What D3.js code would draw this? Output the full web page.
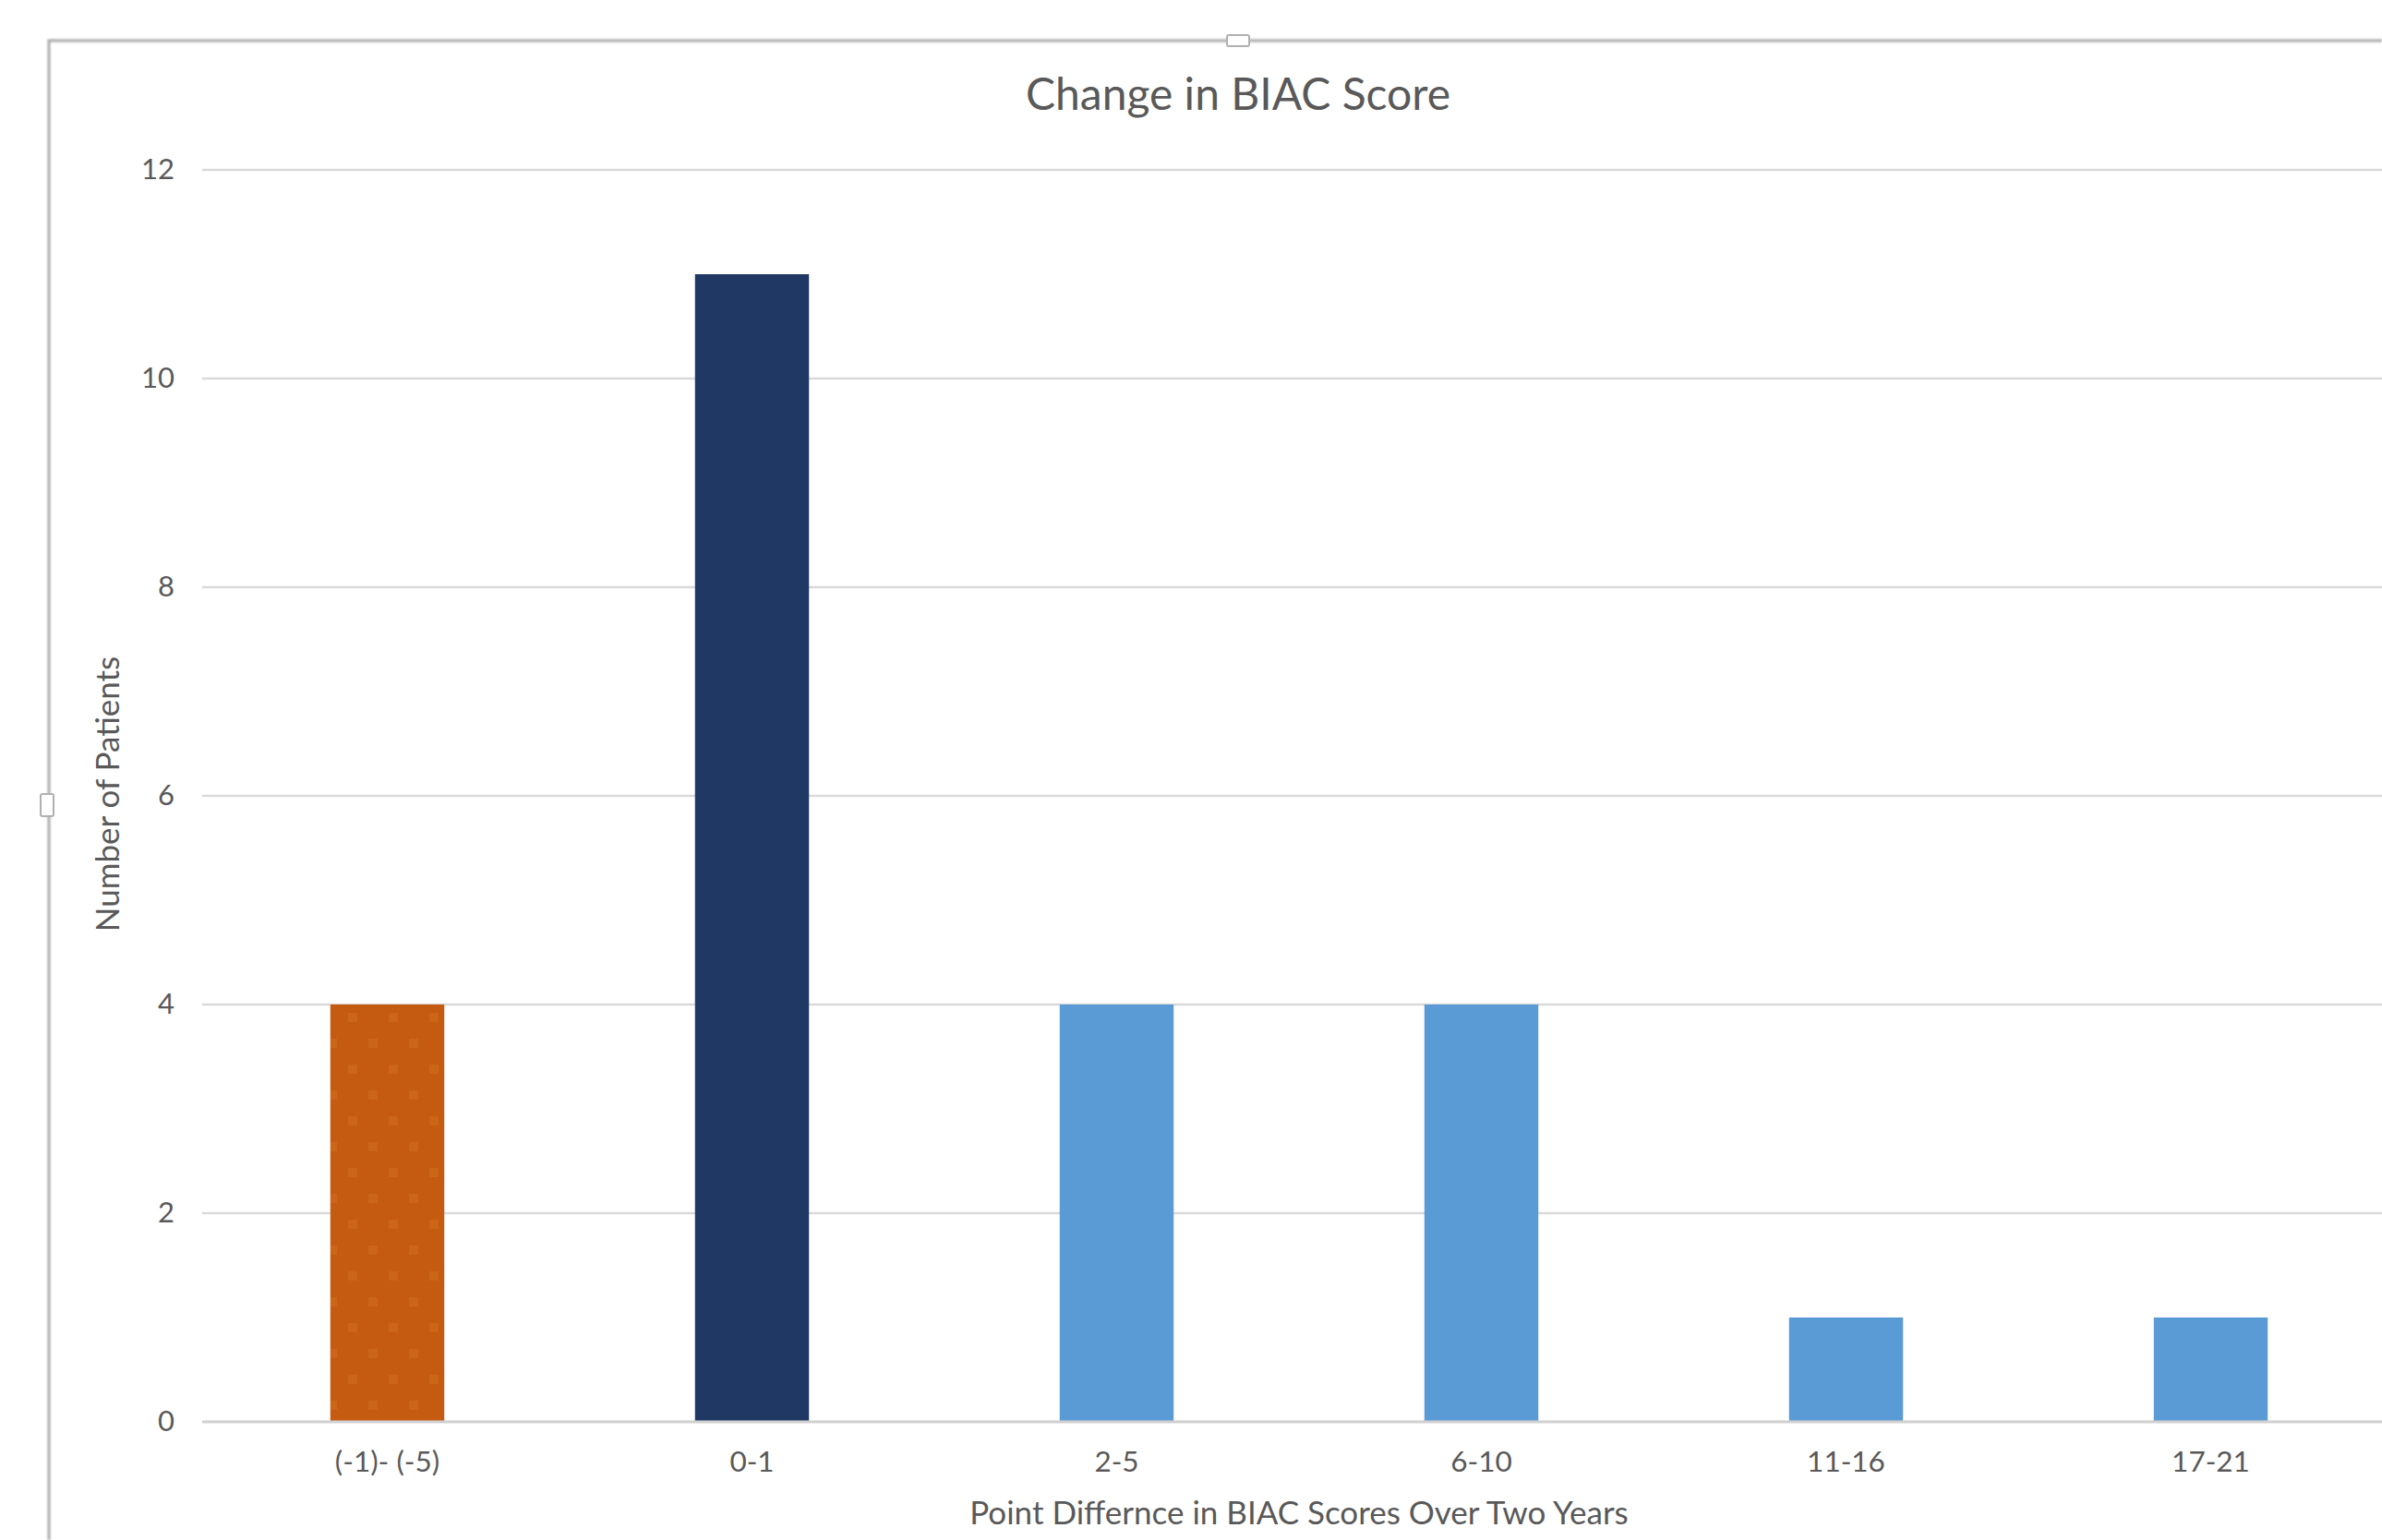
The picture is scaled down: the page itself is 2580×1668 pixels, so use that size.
<!DOCTYPE html>
<html>
<head>
<meta charset="utf-8">
<script src="https://cdn.jsdelivr.net/npm/d3@7"></script>
<style>
  html, body { margin: 0; padding: 0; background: #ffffff; }
  svg { display: block; }
</style>
</head>
<body>
<svg id="chart" width="2580" height="1668"></svg>
<script>
// Histogram of BIAC score change over two years
const categories = ["(-1)- (-5)", "0-1", "2-5", "6-10", "11-16", "17-21"];
const patients   = [4, 11, 4, 4, 1, 1];
const barFills   = ["url(#dots)", "#1f3864", "#5b9bd5", "#5b9bd5", "#5b9bd5", "#5b9bd5"];
const yTicks     = [0, 2, 4, 6, 8, 10, 12];

const titleText  = "Change in BIAC Score";
const xTitleText = "Point Differnce in BIAC Scores Over Two Years";
const yTitleText = "Number of Patients";

const W = 2580, H = 1668;
const plot = { left: 222, right: 2592, top: 184, bottom: 1540 };
const textColor = "#595959";
const font = "Lato, 'Open Sans', sans-serif";

const svg = d3.select("#chart");

// Dotted fill for the decreasing-score bar
const defs = svg.append("defs");
const pat = defs.append("pattern")
  .attr("id", "dots")
  .attr("patternUnits", "userSpaceOnUse")
  .attr("width", 44).attr("height", 56);
pat.append("rect").attr("width", 44).attr("height", 56).attr("fill", "#c55a11");
[[8, 10], [30, 38]].forEach(([cx, cy]) => {
  pat.append("rect").attr("x", cx - 5).attr("y", cy - 5)
    .attr("width", 10).attr("height", 10).attr("fill", "#cb6517");
});

const frameShadow = defs.append("filter").attr("id", "soft")
  .attr("x", "-5%").attr("y", "-5%").attr("width", "110%").attr("height", "110%");
frameShadow.append("feGaussianBlur").attr("stdDeviation", 1.2);

// Chart area frame (top and left edges visible)
svg.append("path")
  .attr("d", `M53,${H} V44 H${W}`)
  .attr("fill", "none")
  .attr("stroke", "#a9a9a9")
  .attr("stroke-width", 3)
  .attr("filter", "url(#soft)");

// Scales
const x = d3.scaleBand()
  .domain(categories)
  .range([plot.left, plot.right])
  .paddingInner(0.6875)
  .paddingOuter(0.34375);

const y = d3.scaleLinear()
  .domain([0, 12])
  .range([plot.bottom, plot.top]);

// Horizontal gridlines
svg.append("g")
  .selectAll("line")
  .data(yTicks.filter(t => t > 0))
  .join("line")
  .attr("x1", plot.left - 3)
  .attr("x2", W)
  .attr("y1", d => y(d))
  .attr("y2", d => y(d))
  .attr("stroke", "#d9d9d9")
  .attr("stroke-width", 2.5);

// Bars
svg.append("g")
  .selectAll("rect")
  .data(patients)
  .join("rect")
  .attr("x", (d, i) => x(categories[i]))
  .attr("y", d => y(d))
  .attr("width", x.bandwidth())
  .attr("height", d => y(0) - y(d))
  .attr("fill", (d, i) => barFills[i]);

// Baseline
svg.append("line")
  .attr("x1", plot.left - 3).attr("x2", W)
  .attr("y1", y(0)).attr("y2", y(0))
  .attr("stroke", "#d0d0d0")
  .attr("stroke-width", 3);

// Y axis labels
const yAxis = d3.axisLeft(y).tickValues(yTicks).tickSize(0).tickPadding(0);
const gy = svg.append("g")
  .attr("transform", `translate(${189},0)`)
  .call(yAxis);
gy.select(".domain").remove();
gy.selectAll("text")
  .attr("fill", textColor)
  .attr("font-family", font)
  .attr("font-size", 31)
  .attr("dy", "0.3em");

// X axis labels
const xAxis = d3.axisBottom(x).tickSize(0).tickPadding(0);
const gx = svg.append("g")
  .attr("transform", `translate(0,${y(0) + 32})`)
  .call(xAxis);
gx.select(".domain").remove();
gx.selectAll("text")
  .attr("fill", textColor)
  .attr("font-family", font)
  .attr("font-size", 31.5)
  .attr("dy", "0.71em");

// Titles
svg.append("text")
  .attr("x", 1341).attr("y", 119)
  .attr("text-anchor", "middle")
  .attr("fill", textColor)
  .attr("font-family", font)
  .attr("font-size", 48)
  .text(titleText);

svg.append("text")
  .attr("x", 1407).attr("y", 1651)
  .attr("text-anchor", "middle")
  .attr("fill", textColor)
  .attr("font-family", font)
  .attr("font-size", 35)
  .text(xTitleText);

svg.append("text")
  .attr("transform", `translate(129,860) rotate(-90)`)
  .attr("text-anchor", "middle")
  .attr("fill", textColor)
  .attr("font-family", font)
  .attr("font-size", 35)
  .text(yTitleText);

// Selection handles on the frame
const handles = [
  { x: 1329, y: 38, w: 24, h: 12 },
  { x: 44, y: 860, w: 14, h: 24 }
];
svg.append("g")
  .selectAll("rect")
  .data(handles)
  .join("rect")
  .attr("x", d => d.x).attr("y", d => d.y)
  .attr("width", d => d.w).attr("height", d => d.h)
  .attr("rx", 2)
  .attr("fill", "#ffffff")
  .attr("stroke", "#b0b0b0")
  .attr("stroke-width", 2);
</script>
</body>
</html>
